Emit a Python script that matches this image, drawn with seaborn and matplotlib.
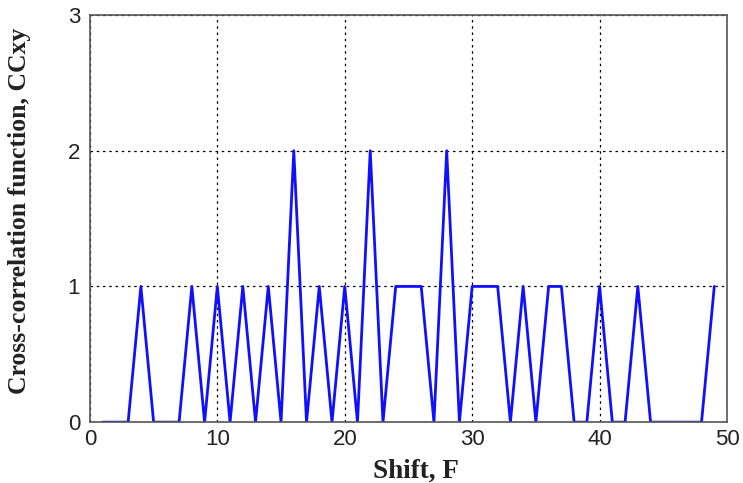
import numpy as np
import pandas as pd
import matplotlib
matplotlib.use("Agg")
import matplotlib.pyplot as plt
import seaborn as sns

# Shift values and cross-correlation counts
shift = list(range(1, 50))
ccxy = [0, 0, 0, 1, 0, 0, 0, 1, 0, 1,
        0, 1, 0, 1, 0, 2, 0, 1, 0, 1,
        0, 2, 0, 1, 1, 1, 0, 2, 0, 1,
        1, 1, 0, 1, 0, 1, 1, 0, 0, 1,
        0, 0, 1, 0, 0, 0, 0, 0, 1]
x_ticks = [0, 10, 20, 30, 40, 50]
y_ticks = [0, 1, 2, 3]

df = pd.DataFrame({"Shift": shift, "CCxy": ccxy})

sns.set_style("white")
fig = plt.figure(figsize=(7.43, 4.83), dpi=100)
ax = fig.add_axes([0.121, 0.126, 0.8575, 0.843])

sns.lineplot(data=df, x="Shift", y="CCxy", ax=ax, color="#1010ff",
             linewidth=2.0, legend=False)

ax.set_xlim(0, 50)
ax.set_ylim(0, 3)
ax.set_xticks(x_ticks)
ax.set_yticks(y_ticks)
ax.grid(True, linestyle=(0, (2, 3)), color="black", linewidth=0.9)
ax.set_axisbelow(True)

for side in ["left", "right", "top", "bottom"]:
    ax.spines[side].set_visible(True)
    ax.spines[side].set_color("#555555")
    ax.spines[side].set_linewidth(1.2)

ax.tick_params(axis="both", direction="in", length=4, labelsize=16,
               colors="#333333", labelcolor="#222222")
ax.tick_params(axis="y", pad=7)
ax.tick_params(axis="x", pad=5)
for lab in ax.get_xticklabels() + ax.get_yticklabels():
    lab.set_fontfamily("Liberation Sans")

ax.set_xlabel("Shift, F", fontfamily="Liberation Serif", fontweight="bold",
              fontsize=19.5, color="#222222")
ax.set_ylabel("Cross-correlation function, CCxy", fontfamily="Liberation Serif",
              fontweight="bold", fontsize=18.5, color="#222222")
ax.xaxis.set_label_coords(0.512, -0.09)
ax.yaxis.set_label_coords(-0.093, 0.518)

fig.savefig("out.png", dpi=100)
